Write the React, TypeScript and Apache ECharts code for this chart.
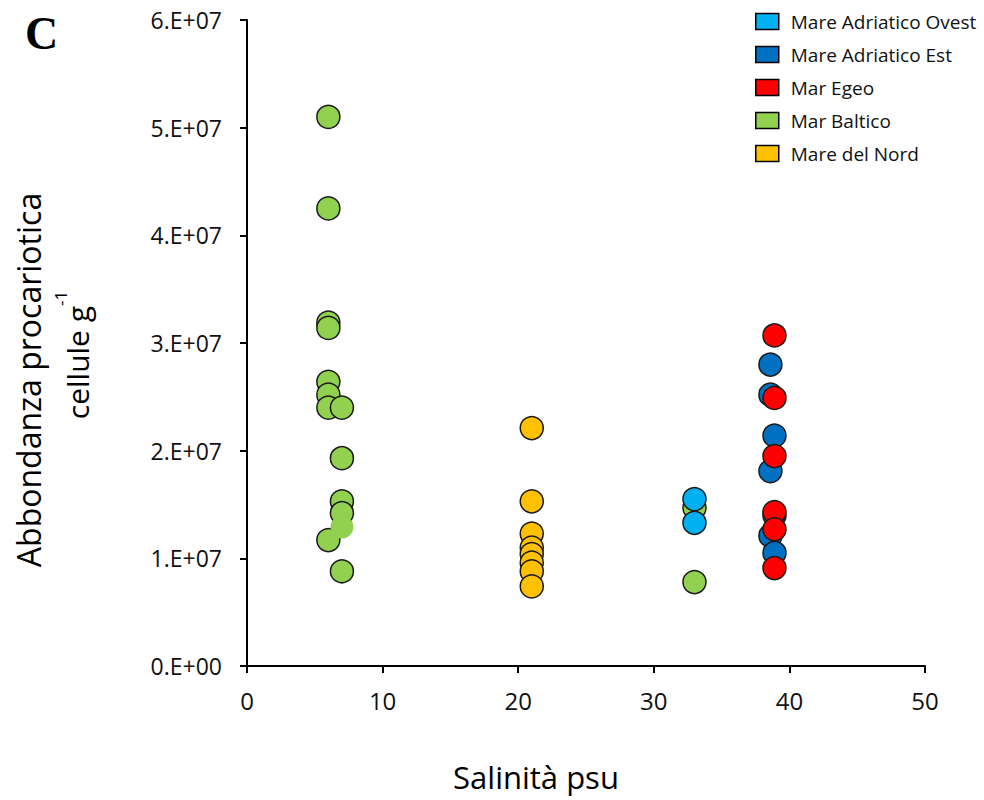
import React, { useEffect, useRef } from "react";
import * as echarts from "echarts";

// Salinity (psu) vs prokaryotic abundance (cells per gram), one array per sea
const seriesNames = [
  "Mare Adriatico Ovest",
  "Mare Adriatico Est",
  "Mar Egeo",
  "Mar Baltico",
  "Mare del Nord",
];

const adriaticoOvest: [number, number][] = [
  [33, 1.55e7],
  [33, 1.33e7],
];

const adriaticoEst: [number, number][] = [
  [38.6, 2.8e7],
  [38.6, 2.52e7],
  [38.9, 2.14e7],
  [38.6, 1.81e7],
  [38.9, 1.4e7],
  [38.6, 1.21e7],
  [38.9, 1.05e7],
];

const egeo: [number, number][] = [
  [38.9, 3.07e7],
  [38.9, 2.49e7],
  [38.9, 1.95e7],
  [38.9, 1.43e7],
  [38.9, 1.27e7],
  [38.9, 0.91e7],
];

const baltico: [number, number][] = [
  [6, 5.1e7],
  [6, 4.25e7],
  [6, 3.19e7],
  [6, 3.14e7],
  [6, 2.64e7],
  [6, 2.52e7],
  [6, 2.4e7],
  [7, 2.4e7],
  [7, 1.93e7],
  [7, 1.53e7],
  [7, 1.42e7],
  [6, 1.17e7],
  [7, 0.88e7],
  [33, 1.47e7],
  [33, 0.78e7],
];

// one Baltic sample is drawn without an outline
const balticoNoOutline: [number, number][] = [[7, 1.29e7]];

const nord: [number, number][] = [
  [21, 2.21e7],
  [21, 1.53e7],
  [21, 1.23e7],
  [21, 1.1e7],
  [21, 1.04e7],
  [21, 0.96e7],
  [21, 0.88e7],
  [21, 0.74e7],
];

const seriesColors: Record<string, string> = {
  "Mare Adriatico Ovest": "#00B0F0",
  "Mare Adriatico Est": "#0070C0",
  "Mar Egeo": "#FF0000",
  "Mar Baltico": "#92D050",
  "Mare del Nord": "#FFC000",
};

const xTicks = { min: 0, max: 50, interval: 10 };
const yTicks = { min: 0, max: 6e7, interval: 1e7 };

const FONT = "'Open Sans', sans-serif";

function sci(v: number): string {
  if (v === 0) return "0.E+00";
  const exp = Math.floor(Math.log10(Math.abs(v)) + 1e-9);
  const mant = Math.round(v / Math.pow(10, exp));
  return `${mant}.E+${String(exp).padStart(2, "0")}`;
}

export default function App() {
  const ref = useRef<HTMLDivElement>(null);

  useEffect(() => {
    document.body.style.margin = "0";
    if (!ref.current) return;
    const chart = echarts.init(ref.current, undefined, { renderer: "svg" });

    const scatter = (name: string, data: any[], z: number) => ({
      name,
      type: "scatter",
      data,
      z,
      symbol: "circle",
      symbolSize: 23,
      itemStyle: {
        color: seriesColors[name],
        borderColor: "#1a1a1a",
        borderWidth: 1.5,
        opacity: 1,
      },
      emphasis: { disabled: true },
    });

    const balticData = [
      ...baltico.map((d) => ({ value: d })),
      ...balticoNoOutline.map((d) => ({ value: d, itemStyle: { borderWidth: 0 } })),
    ];

    chart.setOption({
      animation: false,
      backgroundColor: "#ffffff",
      grid: { left: 247, right: 59, top: 20, bottom: 134 },
      legend: {
        data: seriesNames,
        orient: "vertical",
        left: 755,
        top: 12,
        padding: 0,
        icon: "rect",
        itemWidth: 23,
        itemHeight: 16,
        itemGap: 14,
        itemStyle: { borderColor: "#000", borderWidth: 1.5, opacity: 1 },
        textStyle: {
          fontFamily: FONT,
          fontSize: 19,
          color: "#111",
          padding: [0, 0, 0, 7],
        },
      },
      xAxis: {
        type: "value",
        ...xTicks,
        axisLine: { show: true, onZero: false, lineStyle: { color: "#000", width: 2 } },
        axisTick: { show: true, inside: false, length: 7, lineStyle: { color: "#000", width: 2 } },
        splitLine: { show: false },
        axisLabel: { fontFamily: FONT, fontSize: 24, color: "#111", margin: 22 },
      },
      yAxis: {
        type: "value",
        ...yTicks,
        axisLine: { show: true, onZero: false, lineStyle: { color: "#000", width: 2 } },
        axisTick: { show: true, inside: false, length: 7, lineStyle: { color: "#000", width: 2 } },
        splitLine: { show: false },
        axisLabel: {
          fontFamily: FONT,
          fontSize: 23,
          color: "#111",
          margin: 25,
          formatter: (v: number) => sci(v),
        },
      },
      graphic: [
        {
          type: "text",
          left: 25,
          top: 10,
          style: {
            text: "C",
            font: "bold 46px 'Liberation Serif', 'Times New Roman', serif",
            fill: "#000",
          },
        },
        {
          type: "text",
          x: 28,
          y: 380,
          rotation: Math.PI / 2,
          style: {
            text: "Abbondanza procariotica",
            font: `32px ${FONT}`,
            fill: "#000",
            align: "center",
            verticalAlign: "middle",
          },
        },
        {
          type: "text",
          x: 72,
          y: 355,
          rotation: Math.PI / 2,
          style: {
            text: "{m|cellule g}{s|-1}",
            fill: "#000",
            align: "center",
            verticalAlign: "middle",
            rich: {
              m: { fontFamily: FONT, fontSize: 30, fill: "#000", verticalAlign: "bottom", lineHeight: 40 },
              s: { fontFamily: FONT, fontSize: 17, fill: "#000", verticalAlign: "top", lineHeight: 40 },
            },
          },
        },
        {
          type: "text",
          x: 536,
          y: 777,
          style: {
            text: "Salinità psu",
            font: `31px ${FONT}`,
            fill: "#000",
            align: "center",
            verticalAlign: "middle",
          },
        },
      ],
      series: [
        scatter("Mar Baltico", balticData, 2),
        scatter("Mare del Nord", nord, 3),
        scatter("Mare Adriatico Est", adriaticoEst, 4),
        scatter("Mar Egeo", egeo, 5),
        scatter("Mare Adriatico Ovest", adriaticoOvest, 6),
      ],
    });

    return () => chart.dispose();
  }, []);

  return <div ref={ref} style={{ width: 984, height: 800 }} />;
}
